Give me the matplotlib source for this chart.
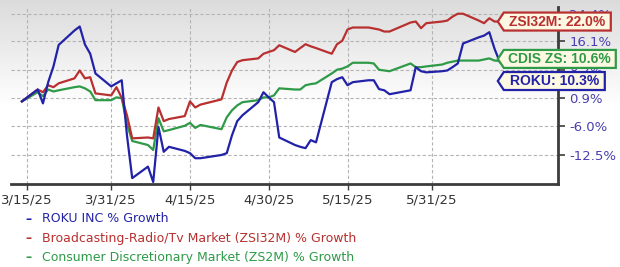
import numpy as np
import pandas as pd
import matplotlib
matplotlib.use("Agg")
import matplotlib.pyplot as plt
import matplotlib.dates as mdates
from matplotlib.patches import Polygon

# trading days shown in the chart
dates = pd.to_datetime([
    "2025-03-14", "2025-03-17", "2025-03-18", "2025-03-19", "2025-03-20", "2025-03-21",
    "2025-03-24", "2025-03-25", "2025-03-26", "2025-03-27", "2025-03-28",
    "2025-03-31", "2025-04-01", "2025-04-02", "2025-04-03", "2025-04-04",
    "2025-04-07", "2025-04-08", "2025-04-09", "2025-04-10", "2025-04-11",
    "2025-04-14", "2025-04-15", "2025-04-16", "2025-04-17",
    "2025-04-21", "2025-04-22", "2025-04-23", "2025-04-24", "2025-04-25",
    "2025-04-28", "2025-04-29", "2025-04-30", "2025-05-01", "2025-05-02",
    "2025-05-05", "2025-05-06", "2025-05-07", "2025-05-08", "2025-05-09",
    "2025-05-12", "2025-05-13", "2025-05-14", "2025-05-15", "2025-05-16",
    "2025-05-19", "2025-05-20", "2025-05-21", "2025-05-22", "2025-05-23",
    "2025-05-27", "2025-05-28", "2025-05-29", "2025-05-30",
    "2025-06-02", "2025-06-03", "2025-06-04", "2025-06-05", "2025-06-06",
    "2025-06-09", "2025-06-10", "2025-06-11", "2025-06-12", "2025-06-13",
])

# % growth since 3/14/25
roku = [
    0.0, 3.0, -0.5, 4.9, 9.1, 15.1,
    19.3, 20.5, 15.2, 12.6, 7.2,
    3.8, 4.6, 5.4, -8.1, -17.4,
    -15.0, -18.2, -6.2, -11.8, -10.7,
    -11.6, -12.1, -13.2, -13.2,
    -12.5, -12.1, -8.1, -4.8, -3.4,
    -0.2, 2.3, 1.0, -0.2, -8.6,
    -10.3, -10.7, -11.0, -9.2, -9.7,
    4.9, 5.7, 6.2, 4.1, 4.9,
    5.4, 5.4, 3.1, 2.8, 1.8,
    2.8, 8.9, 7.8, 7.5,
    7.8, 8.0, 8.9, 9.9, 15.5,
    17.3, 17.8, 18.8, 14.0, 10.3,
]
zsi32m = [
    0.0, 3.0, 2.3, 4.1, 3.6, 4.6,
    5.9, 8.0, 5.9, 6.2, 2.0,
    1.5, 3.6, 0.9, -3.4, -8.8,
    -8.6, -8.8, -1.5, -4.8, -4.3,
    -3.6, 0.0, -1.5, -0.8,
    0.5, 4.8, 8.0, 10.3, 10.8,
    11.3, 12.6, 13.1, 13.6, 15.0,
    13.1, 14.2, 15.3, 14.7, 14.2,
    12.6, 15.3, 16.3, 19.6, 20.2,
    20.2, 19.9, 19.6, 19.0, 19.0,
    21.7, 22.0, 20.0, 21.5,
    22.0, 22.3, 23.5, 24.4, 24.4,
    22.3, 21.5, 23.0, 22.0, 22.0,
]
zs2m = [
    0.0, 2.3, 1.3, 3.0, 2.5, 2.8,
    3.6, 3.8, 3.3, 2.5, 0.3,
    0.3, 1.0, 0.8, -5.5, -9.4,
    -10.3, -11.4, -4.1, -7.2, -6.9,
    -5.9, -5.2, -6.4, -5.7,
    -6.7, -3.9, -2.2, -1.0, -0.2,
    0.3, 1.0, 1.0, 1.5, 3.3,
    3.0, 3.0, 4.1, 4.4, 4.6,
    7.2, 8.2, 8.5, 9.1, 10.1,
    10.1, 9.9, 8.2, 8.0, 7.8,
    9.9, 8.9, 8.9, 9.1,
    9.6, 10.1, 10.4, 10.7, 10.7,
    10.7, 11.0, 11.3, 10.7, 10.6,
]

series_labels = [
    "ROKU INC % Growth",
    "Broadcasting-Radio/Tv Market (ZSI32M) % Growth",
    "Consumer Discretionary Market (ZS2M) % Growth",
]
tag_names = ["ROKU", "ZSI32M", "CDIS ZS"]
colors = ["#2222a8", "#b83030", "#2f9a48"]
tag_shift = [-19, 0, 2]  # pixels, to keep tags from overlapping

ytick_vals = [-12.5, -6.0, 0.9, 8.2, 16.1, 24.4]
xtick_dates = pd.to_datetime(["2025-03-15", "2025-03-31", "2025-04-15",
                              "2025-04-30", "2025-05-15", "2025-05-31"])

W, H = 620, 267
fig = plt.figure(figsize=(W / 100, H / 100), dpi=100)

# grey-to-white background gradient
bg = fig.add_axes([0, 0, 1, 1], zorder=-10)
g = np.ones((H, 1))
fade = np.clip(np.arange(H) / 105.0, 0, 1)
g[:, 0] = 0.86 + 0.14 * fade
bg.imshow(np.dstack([g, g, g]), aspect="auto", extent=[0, 1, 0, 1])
bg.axis("off")

ax_l, ax_r, ax_t, ax_b = 11, 558, 7, 184
ax = fig.add_axes([ax_l / W, 1 - ax_b / H, (ax_r - ax_l) / W, (ax_b - ax_t) / H])
ax.patch.set_alpha(0)

fwd = lambda v: np.log1p(np.asarray(v, float) / 100.0)
inv = lambda v: np.expm1(np.asarray(v, float)) * 100.0
ax.set_yscale("function", functions=(fwd, inv))

for vals, c in zip([zs2m, zsi32m, roku], [colors[2], colors[1], colors[0]]):
    ax.plot(dates, vals, color=c, lw=1.6, solid_joinstyle="round")

ax.set_xlim(pd.Timestamp("2025-03-11 22:00"), pd.Timestamp("2025-06-24 02:00"))
ax.set_ylim(-18.6, 26.5)

ax.yaxis.tick_right()
ax.set_yticks(ytick_vals)
ax.set_yticklabels([f"{v:.1f}%" for v in ytick_vals])
ax.set_xticks(xtick_dates)
ax.set_xticklabels([f"{d.month}/{d.day}/{d:%y}" for d in xtick_dates])

ax.grid(True, color="#b4b4b4", lw=0.8, ls=(0, (3, 2)))
for s in ["left", "top"]:
    ax.spines[s].set_visible(False)
for s in ["right", "bottom"]:
    ax.spines[s].set_color("#3c3c3c")
    ax.spines[s].set_linewidth(2)
ax.tick_params(axis="y", colors="#3c3c3c", labelcolor="#4a3fb0", length=5, width=1.2,
               labelsize=9.5, pad=3)
ax.tick_params(axis="x", colors="#3c3c3c", labelcolor="#333333", length=4, width=1,
               labelsize=9.5, pad=3)

# legend below the chart
leg_y = [219, 238.5, 257.5]
for lab, c, yy in zip(series_labels, colors, leg_y):
    fig.text(25 / W, 1 - yy / H, "\u2013", color=c, fontsize=9, fontweight="bold",
             va="center", ha="left")
    fig.text(42 / W, 1 - yy / H, lab, color=c, fontsize=9, va="center", ha="left")

# end-of-line tags
fig.canvas.draw()
ends = [roku[-1], zsi32m[-1], zs2m[-1]]
widths = [107, 113, 118]
for name, val, c, dy, w in zip(tag_names, ends, colors, tag_shift, widths):
    tx, ty = ax.transData.transform((mdates.date2num(dates[-1]), val))
    ty += dy
    tx -= 2
    h = 9
    pts = [(tx, ty), (tx + 6, ty + h), (tx + w, ty + h), (tx + w, ty - h), (tx + 6, ty - h)]
    fig.add_artist(Polygon(pts, closed=True, transform=None, facecolor="#fdf8e2",
                           edgecolor=c, lw=1.6, zorder=10))
    fig.text((tx + 6 + (w - 6) / 2) / W, ty / H, f"{name}: {val:.1f}%", color=c,
             fontsize=10, fontweight="bold", family="Liberation Sans",
             ha="center", va="center", zorder=11)

fig.savefig("out.png", dpi=100)
